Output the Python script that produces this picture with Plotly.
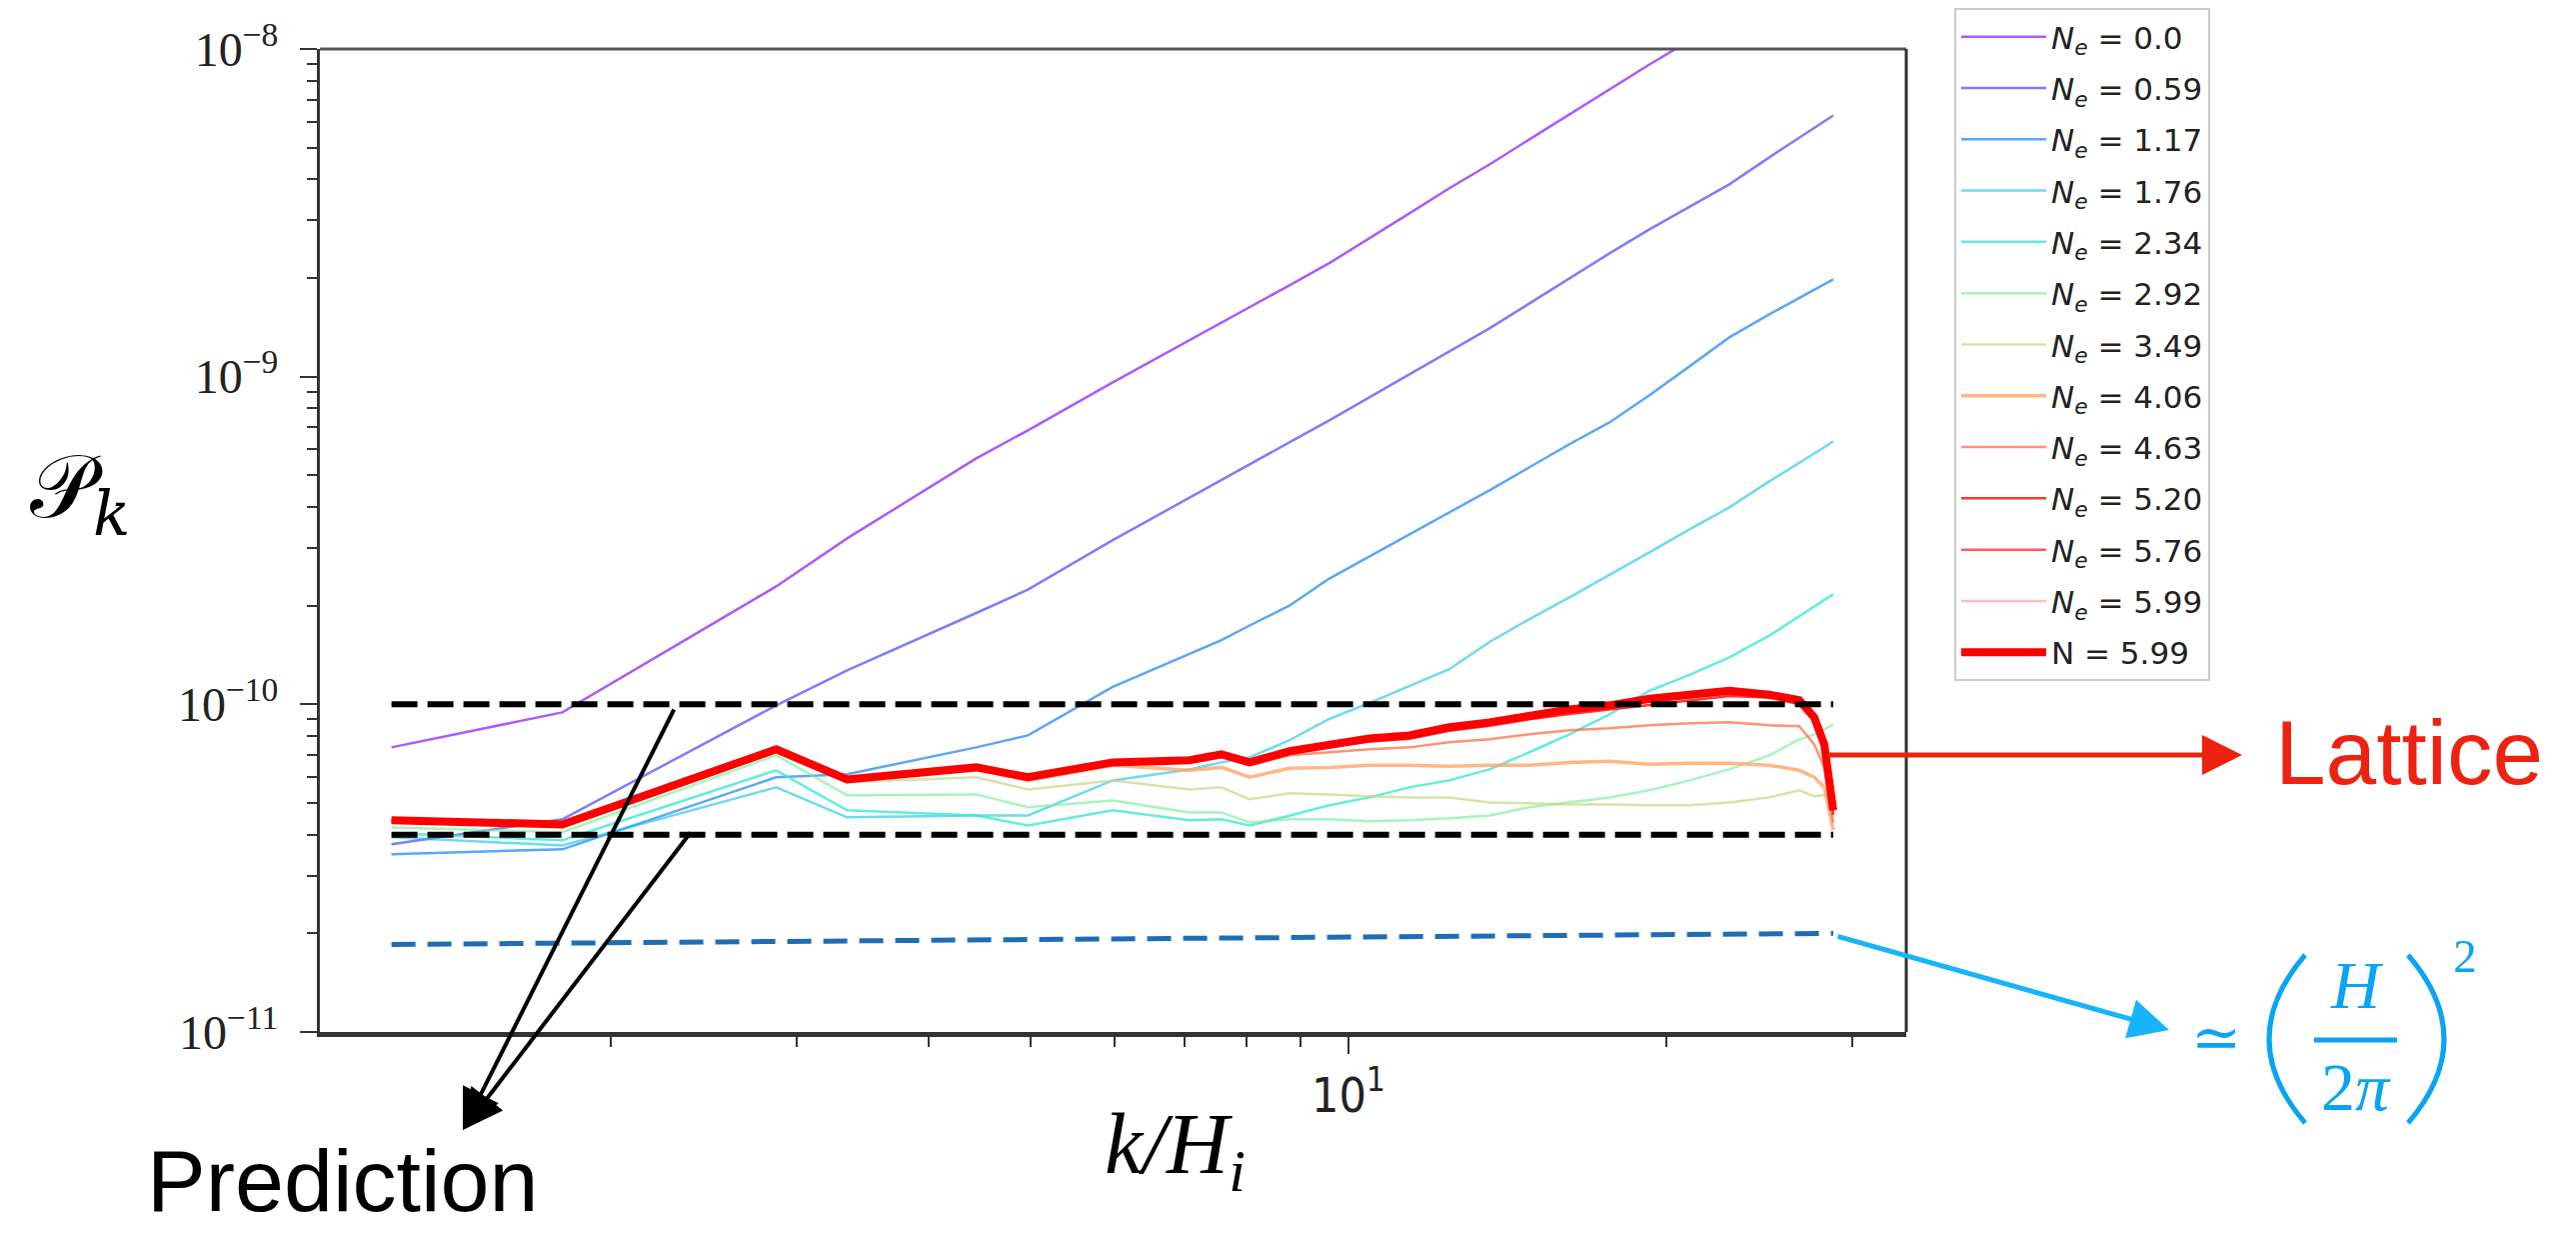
import plotly.graph_objects as go

# ---------------- data ----------------
k_over_H = [1.24, 1.80, 2.87, 3.35, 4.44, 4.97, 5.98, 7.07, 7.58, 8.06, 8.79, 9.59,
            10.47, 11.42, 12.46, 13.60, 14.84, 16.19, 17.67, 19.28, 21.04, 22.95,
            25.04, 26.73, 27.62, 28.23, 28.79]

ne_000 = [7.39e-11, 9.45e-11, 2.29e-10, 3.21e-10, 5.63e-10, 6.86e-10, 9.61e-10, 1.29e-9,
          1.46e-9, 1.63e-9, 1.90e-9, 2.22e-9, 2.64e-9, 3.15e-9, 3.76e-9, 4.44e-9, 5.30e-9,
          6.31e-9, 7.53e-9, 8.97e-9, 1.06e-8]
ne_059 = [3.74e-11, 4.46e-11, 9.93e-11, 1.27e-10, 1.90e-10, 2.24e-10, 3.17e-10, 4.28e-10,
          4.86e-10, 5.40e-10, 6.30e-10, 7.36e-10, 8.65e-10, 1.016e-9, 1.195e-9, 1.404e-9,
          1.673e-9, 1.995e-9, 2.378e-9, 2.816e-9, 3.309e-9, 3.863e-9, 4.67e-9, 5.37e-9,
          5.77e-9, 6.01e-9, 6.27e-9]
ne_117 = [3.49e-11, 3.61e-11, 5.99e-11, 6.12e-11, 7.39e-11, 8.04e-11, 1.13e-10, 1.42e-10,
          1.57e-10, 1.74e-10, 2.00e-10, 2.42e-10, 2.83e-10, 3.30e-10, 3.85e-10, 4.50e-10,
          5.29e-10, 6.22e-10, 7.25e-10, 8.77e-10, 1.075e-9, 1.318e-9, 1.549e-9, 1.734e-9,
          1.841e-9, 1.913e-9, 1.98e-9]
ne_176 = [3.93e-11, 3.71e-11, 5.58e-11, 4.52e-11, 4.58e-11, 4.58e-11, 5.86e-11, 6.33e-11,
          6.65e-11, 6.89e-11, 7.77e-11, 9.02e-11, 1.01e-10, 1.14e-10, 1.28e-10, 1.55e-10,
          1.82e-10, 2.12e-10, 2.48e-10, 2.91e-10, 3.42e-10, 3.99e-10, 4.79e-10, 5.48e-10,
          5.83e-10, 6.09e-10, 6.35e-10]
ne_234 = [4.04e-11, 3.85e-11, 6.29e-11, 4.75e-11, 4.58e-11, 4.27e-11, 4.75e-11, 4.43e-11,
          4.46e-11, 4.27e-11, 4.57e-11, 4.92e-11, 5.20e-11, 5.58e-11, 5.86e-11, 6.33e-11,
          7.14e-11, 8.10e-11, 9.32e-11, 1.10e-10, 1.23e-10, 1.39e-10, 1.62e-10, 1.86e-10,
          1.99e-10, 2.08e-10, 2.17e-10]
ne_292 = [4.21e-11, 4.07e-11, 6.99e-11, 5.28e-11, 5.31e-11, 4.85e-11, 5.09e-11, 4.68e-11,
          4.68e-11, 4.36e-11, 4.46e-11, 4.46e-11, 4.40e-11, 4.43e-11, 4.49e-11, 4.58e-11,
          4.85e-11, 5.02e-11, 5.20e-11, 5.47e-11, 5.86e-11, 6.33e-11, 6.99e-11, 7.82e-11,
          8.10e-11, 8.39e-11, 8.69e-11]
ne_349 = [4.36e-11, 4.24e-11, 7.19e-11, 5.78e-11, 5.99e-11, 5.50e-11, 5.86e-11, 5.50e-11,
          5.58e-11, 5.13e-11, 5.35e-11, 5.31e-11, 5.24e-11, 5.20e-11, 5.20e-11, 5.02e-11,
          4.99e-11, 4.95e-11, 4.95e-11, 4.92e-11, 4.92e-11, 5.02e-11, 5.20e-11, 5.47e-11,
          5.24e-11, 5.28e-11, 5.28e-11]
ne_406 = [4.40e-11, 4.27e-11, 7.29e-11, 5.86e-11, 6.33e-11, 5.86e-11, 6.52e-11, 6.29e-11,
          6.42e-11, 5.99e-11, 6.38e-11, 6.42e-11, 6.52e-11, 6.52e-11, 6.47e-11, 6.52e-11,
          6.52e-11, 6.65e-11, 6.70e-11, 6.56e-11, 6.61e-11, 6.61e-11, 6.52e-11, 6.29e-11,
          5.99e-11, 5.58e-11, 4.13e-11]
ne_463 = [4.40e-11, 4.27e-11, 7.24e-11, 5.86e-11, 6.38e-11, 5.95e-11, 6.61e-11, 6.65e-11,
          6.89e-11, 6.52e-11, 6.99e-11, 7.14e-11, 7.29e-11, 7.39e-11, 7.66e-11, 7.82e-11,
          8.10e-11, 8.33e-11, 8.45e-11, 8.63e-11, 8.75e-11, 8.81e-11, 8.63e-11, 8.57e-11,
          7.55e-11, 6.42e-11, 4.36e-11]
ne_520 = [4.42e-11, 4.29e-11, 7.26e-11, 5.88e-11, 6.40e-11, 5.97e-11, 6.62e-11, 6.70e-11,
          6.98e-11, 6.60e-11, 7.10e-11, 7.40e-11, 7.70e-11, 7.85e-11, 8.30e-11, 8.60e-11,
          9.00e-11, 9.35e-11, 9.65e-11, 1.00e-10, 1.03e-10, 1.06e-10, 1.05e-10, 1.00e-10,
          8.90e-11, 7.30e-11, 4.60e-11]
ne_576 = [4.43e-11, 4.30e-11, 7.28e-11, 5.89e-11, 6.41e-11, 5.98e-11, 6.64e-11, 6.73e-11,
          7.02e-11, 6.63e-11, 7.15e-11, 7.45e-11, 7.80e-11, 7.95e-11, 8.40e-11, 8.70e-11,
          9.15e-11, 9.50e-11, 9.80e-11, 1.02e-10, 1.05e-10, 1.08e-10, 1.06e-10, 1.02e-10,
          9.00e-11, 7.40e-11, 4.70e-11]
ne_599 = [4.43e-11, 4.30e-11, 7.29e-11, 5.90e-11, 6.42e-11, 5.99e-11, 6.65e-11, 6.75e-11,
          7.04e-11, 6.65e-11, 7.19e-11, 7.50e-11, 7.87e-11, 8.04e-11, 8.51e-11, 8.81e-11,
          9.26e-11, 9.65e-11, 9.93e-11, 1.04e-10, 1.07e-10, 1.10e-10, 1.07e-10, 1.03e-10,
          9.13e-11, 7.55e-11, 4.75e-11]
n_final = [4.43e-11, 4.30e-11, 7.29e-11, 5.90e-11, 6.42e-11, 5.99e-11, 6.65e-11, 6.75e-11,
           7.04e-11, 6.65e-11, 7.19e-11, 7.50e-11, 7.87e-11, 8.04e-11, 8.51e-11, 8.81e-11,
           9.26e-11, 9.65e-11, 9.93e-11, 1.04e-10, 1.07e-10, 1.10e-10, 1.07e-10, 1.03e-10,
           9.13e-11, 7.55e-11, 4.75e-11]

ne_labels = ["0.0", "0.59", "1.17", "1.76", "2.34", "2.92", "3.49", "4.06",
             "4.63", "5.20", "5.76", "5.99"]
ne_series = [ne_000, ne_059, ne_117, ne_176, ne_234, ne_292, ne_349, ne_406,
             ne_463, ne_520, ne_576, ne_599]
final_label = "5.99"

prediction_levels = [1.0e-10, 4.0e-11]
hubble_level = [1.85e-11, 2.0e-11]

y_major = [1e-11, 1e-10, 1e-9, 1e-8]
y_major_text = ["10<sup>\u221211</sup>", "10<sup>\u221210</sup>",
                "10<sup>\u22129</sup>", "10<sup>\u22128</sup>"]
x_major = [10]
x_major_text = ["10<sup>1</sup>"]

# ---------------- styling ----------------
colors = ["rgba(128,0,255,0.65)", "rgba(81,72,252,0.72)", "rgba(35,138,245,0.75)",
          "rgba(12,193,232,0.6)", "rgba(58,232,214,0.8)", "rgba(120,240,150,0.65)",
          "rgba(197,215,130,0.7)", "rgba(255,165,105,0.8)", "rgba(255,110,70,0.75)",
          "rgba(255,30,30,0.9)", "rgba(255,50,50,0.8)", "rgba(255,120,120,0.5)"]
widths = [2.5, 2.5, 2.5, 2.5, 2.5, 2.5, 2.5, 3.5, 2.5, 2.5, 2.5, 2.5]

W, H = 2577, 1234
L, R, T, B = 320, 1907, 49, 1032


def px(X):
    return (X - L) / (R - L)


def py(Y):
    return (B - Y) / (B - T)


fig = go.Figure()

for i, (lab, vals) in enumerate(zip(ne_labels, ne_series)):
    fig.add_trace(go.Scatter(
        x=k_over_H[:len(vals)], y=vals, mode="lines",
        line=dict(color=colors[i], width=widths[i]),
        name="<i>N<sub>e</sub></i> = " + lab, legendgroup="g%d" % i))

fig.add_trace(go.Scatter(
    x=k_over_H, y=n_final, mode="lines", line=dict(color="#ff0000", width=8),
    name="N = " + final_label, legendgroup="gN"))

for lvl in prediction_levels:
    fig.add_trace(go.Scatter(
        x=[k_over_H[0], k_over_H[-1]], y=[lvl, lvl], mode="lines",
        line=dict(color="black", width=6, dash="26px,10px"), showlegend=False))

fig.add_trace(go.Scatter(
    x=[k_over_H[0], k_over_H[-1]], y=hubble_level, mode="lines",
    line=dict(color="#1f6db5", width=5, dash="24px,12px"), showlegend=False))

y_minor = [m * 10.0 ** e for e in (-11, -10, -9) for m in range(2, 10)]
x_minor = [2, 3, 4, 5, 6, 7, 8, 9, 20, 30]

fig.update_layout(
    width=W, height=H,
    margin=dict(l=L, r=W - R, t=T, b=H - B, autoexpand=False),
    paper_bgcolor="white", plot_bgcolor="white",
    xaxis=dict(type="log", range=[0.0256, 1.5284], showgrid=False, zeroline=False,
               showline=True, linecolor="#333", linewidth=5,
               ticks="outside", ticklen=17, tickwidth=2, tickcolor="#333",
               tickmode="array", tickvals=x_major, ticktext=x_major_text,
               tickfont=dict(family="Liberation Sans Narrow, DejaVu Sans Condensed, Liberation Sans",
                             size=48, color="#222"),
               minor=dict(ticks="outside", ticklen=10, tickwidth=2, tickcolor="#333",
                          tickmode="array", tickvals=x_minor, showgrid=False)),
    yaxis=dict(type="log", range=[-11, -8], showgrid=False, zeroline=False,
               showline=True, linecolor="#333", linewidth=3,
               ticks="outside", ticklen=17, tickwidth=2, tickcolor="#333",
               tickmode="array", tickvals=y_major, ticktext=y_major_text,
               ticklabelstandoff=12,
               tickfont=dict(family="Liberation Serif, DejaVu Serif", size=48, color="#222"),
               minor=dict(ticks="outside", ticklen=10, tickwidth=2, tickcolor="#333",
                          tickmode="array", tickvals=y_minor, showgrid=False)),
    legend=dict(x=px(1955), y=py(8), xanchor="left", yanchor="top",
                bgcolor="white", bordercolor="#cccccc", borderwidth=2,
                font=dict(family="DejaVu Sans", size=31, color="#222"),
                tracegroupgap=8, itemwidth=85, maxheight=720),
    showlegend=True,
)

# frame (top and right)
fig.add_shape(type="line", xref="paper", yref="paper", x0=0, x1=1, y0=1, y1=1,
              line=dict(color="#555", width=3))
fig.add_shape(type="line", xref="paper", yref="paper", x0=1, x1=1, y0=0, y1=1,
              line=dict(color="#333", width=3))

blue_txt = "#0aa3f5"
# formula parentheses and fraction bar
fig.add_shape(type="path", xref="paper", yref="paper",
              path="M %f,%f Q %f,%f %f,%f" % (px(2306), py(955), px(2234), py(1039), px(2306), py(1123)),
              line=dict(color=blue_txt, width=5))
fig.add_shape(type="path", xref="paper", yref="paper",
              path="M %f,%f Q %f,%f %f,%f" % (px(2409), py(955), px(2481), py(1039), px(2409), py(1123)),
              line=dict(color=blue_txt, width=5))
fig.add_shape(type="line", xref="paper", yref="paper",
              x0=px(2315), x1=px(2398), y0=py(1040), y1=py(1040),
              line=dict(color=blue_txt, width=5))


def text_ann(X, Y, text, family, size, color, **kw):
    fig.add_annotation(x=px(X), y=py(Y), xref="paper", yref="paper", text=text,
                       showarrow=False, xanchor="center", yanchor="middle",
                       font=dict(family=family, size=size, color=color), **kw)


def arrow_ann(tipX, tipY, tailX, tailY, color, width, size, **kw):
    fig.add_annotation(x=px(tipX), y=py(tipY), xref="paper", yref="paper", text="",
                       showarrow=True, ax=tailX - tipX, ay=tailY - tipY,
                       arrowhead=2, arrowsize=size, arrowwidth=width, arrowcolor=color, **kw)


# axis titles
text_ann(80, 492, "\U0001D4AB<sub><i>k</i></sub>", "DejaVu Serif, Liberation Serif", 88, "black")
text_ann(1175, 1150, "<i>k/H<sub>i</sub></i>", "Liberation Serif, DejaVu Serif", 86, "black")

# annotations
text_ann(342, 1180, "Prediction", "Liberation Sans, Arial", 88, "black")
arrow_ann(463, 1130, 675, 708, "black", 4, 2.0)
arrow_ann(463, 1130, 692, 831, "black", 4, 2.0)

text_ann(2410, 752, "Lattice", "Liberation Sans, Arial", 91, "#ee2211")
arrow_ann(2243, 755, 1827, 755, "#ee2211", 5, 1.6)

arrow_ann(2170, 1030, 1837, 936, "#18b4fa", 5, 1.6)
text_ann(2217, 1037, "\u2243", "DejaVu Serif", 60, blue_txt)
text_ann(2358, 985, "<i>H</i>", "Liberation Serif, DejaVu Serif", 68, blue_txt)
text_ann(2357, 1087, "2<i>\u03c0</i>", "Liberation Serif, DejaVu Serif", 68, blue_txt)
text_ann(2466, 956, "2", "Liberation Serif, DejaVu Serif", 47, blue_txt)

fig.write_html("out.html")
